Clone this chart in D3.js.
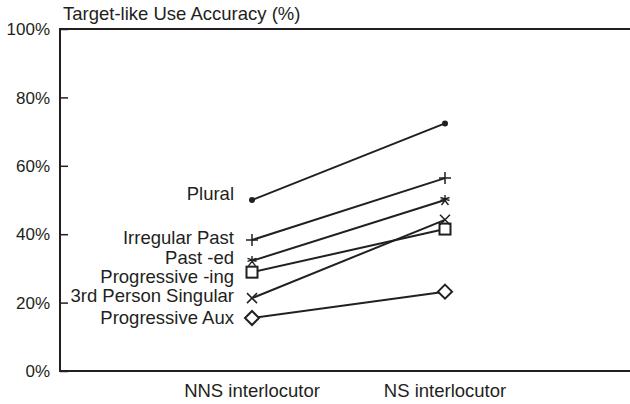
<!DOCTYPE html>
<html lang="en">
<head>
    <meta charset="UTF-8">
    <title>Target-like Use Accuracy</title>
    <script src="https://d3js.org/d3.v7.min.js"></script>
    <style>
        body { margin: 0; background: #fff; }
        text { font-family: "Liberation Sans", Arial, sans-serif; fill: #231f20; }
    </style>
</head>
<body>
    <div id="chart"></div>

    <script>
        // dados
        const conditions = ["NNS interlocutor", "NS interlocutor"];
        const seriesNames = ["Plural", "Irregular Past", "Past -ed", "Progressive -ing", "3rd Person Singular", "Progressive Aux"];
        const nnsValues = [50, 38.3, 32.2, 28.9, 21.3, 15.5];
        const nsValues = [72.4, 56.4, 50, 41.5, 44.2, 23.2];
        const yTicks = [0, 20, 40, 60, 80, 100];

        const width = 630, height = 404;
        const ink = "#231f20";

        const svg = d3.select("#chart").append("svg")
            .attr("width", width)
            .attr("height", height);

        const x = d3.scalePoint().domain(conditions).range([252, 445]);
        const y = d3.scaleLinear().domain([0, 100]).range([371, 29]);

        // moldura: linha de cima, esquerda e de baixo
        svg.append("path")
            .attr("d", `M${width},${y(100)}H60V${y(0)}H${width}`)
            .attr("fill", "none")
            .attr("stroke", ink)
            .attr("stroke-width", 2);

        // marcas do eixo y (para dentro)
        const yAxis = d3.axisRight(y)
            .tickValues(yTicks)
            .tickSize(8)
            .tickFormat("");
        const gy = svg.append("g").attr("transform", "translate(60,0)").call(yAxis);
        gy.select(".domain").remove();
        gy.selectAll("line").attr("stroke", ink).attr("stroke-width", 1.5);

        svg.selectAll(".ylab")
            .data(yTicks)
            .enter()
            .append("text")
            .attr("class", "ylab")
            .attr("x", 50)
            .attr("y", d => y(d))
            .attr("dy", "0.36em")
            .attr("text-anchor", "end")
            .attr("font-size", 17)
            .text(d => d + "%");

        svg.append("text")
            .attr("x", 63)
            .attr("y", 20)
            .attr("font-size", 18.5)
            .text("Target-like Use Accuracy (%)");

        svg.selectAll(".xlab")
            .data(conditions)
            .enter()
            .append("text")
            .attr("class", "xlab")
            .attr("x", d => x(d))
            .attr("y", 397)
            .attr("text-anchor", "middle")
            .attr("font-size", 18.5)
            .text(d => d);

        const series = seriesNames.map((name, i) => ({
            name: name,
            points: [nnsValues[i], nsValues[i]].map((v, j) => ({ cond: conditions[j], value: v }))
        }));

        const markers = ["dot", "plus", "star", "square", "cross", "diamond"];
        const labelDy = [-7, -3, -4, 4, -3, -1];

        const line = d3.line().x(d => x(d.cond)).y(d => y(d.value));

        svg.selectAll(".serie")
            .data(series)
            .enter()
            .append("path")
            .attr("class", "serie")
            .attr("d", d => line(d.points))
            .attr("fill", "none")
            .attr("stroke", ink)
            .attr("stroke-width", 2);

        function desenharMarcador(g, tipo) {
            if (tipo === "dot") {
                g.append("circle").attr("r", 3).attr("fill", ink);
            } else if (tipo === "plus") {
                g.append("path").attr("d", "M-6,0H6M0,-6V6").attr("stroke", ink).attr("stroke-width", 1.5);
            } else if (tipo === "star") {
                g.append("path").attr("d", "M0,-5V0.5M-4.5,-2.5L4.5,0.5M4.5,-2.5L-4.5,0.5M0,0.5L-3.5,5M0,0.5L3.5,5")
                    .attr("stroke", ink).attr("stroke-width", 1.4).attr("fill", "none");
            } else if (tipo === "square") {
                g.append("rect").attr("x", -5.5).attr("y", -5.5).attr("width", 11).attr("height", 11)
                    .attr("fill", "#fff").attr("stroke", ink).attr("stroke-width", 2);
            } else if (tipo === "cross") {
                g.append("path").attr("d", "M-5,-5L5,5M5,-5L-5,5").attr("stroke", ink).attr("stroke-width", 1.5);
            } else if (tipo === "diamond") {
                g.append("path").attr("d", "M0,-7L7,0L0,7L-7,0Z")
                    .attr("fill", "#fff").attr("stroke", ink).attr("stroke-width", 2);
            }
        }

        series.forEach((s, i) => {
            s.points.forEach(p => {
                const g = svg.append("g").attr("transform", `translate(${x(p.cond)},${y(p.value)})`);
                desenharMarcador(g, markers[i]);
            });
        });

        svg.selectAll(".slab")
            .data(series)
            .enter()
            .append("text")
            .attr("class", "slab")
            .attr("x", 234)
            .attr("y", (d, i) => y(d.points[0].value) + labelDy[i])
            .attr("dy", "0.36em")
            .attr("text-anchor", "end")
            .attr("font-size", 18.5)
            .text(d => d.name);
    </script>
</body>
</html>
